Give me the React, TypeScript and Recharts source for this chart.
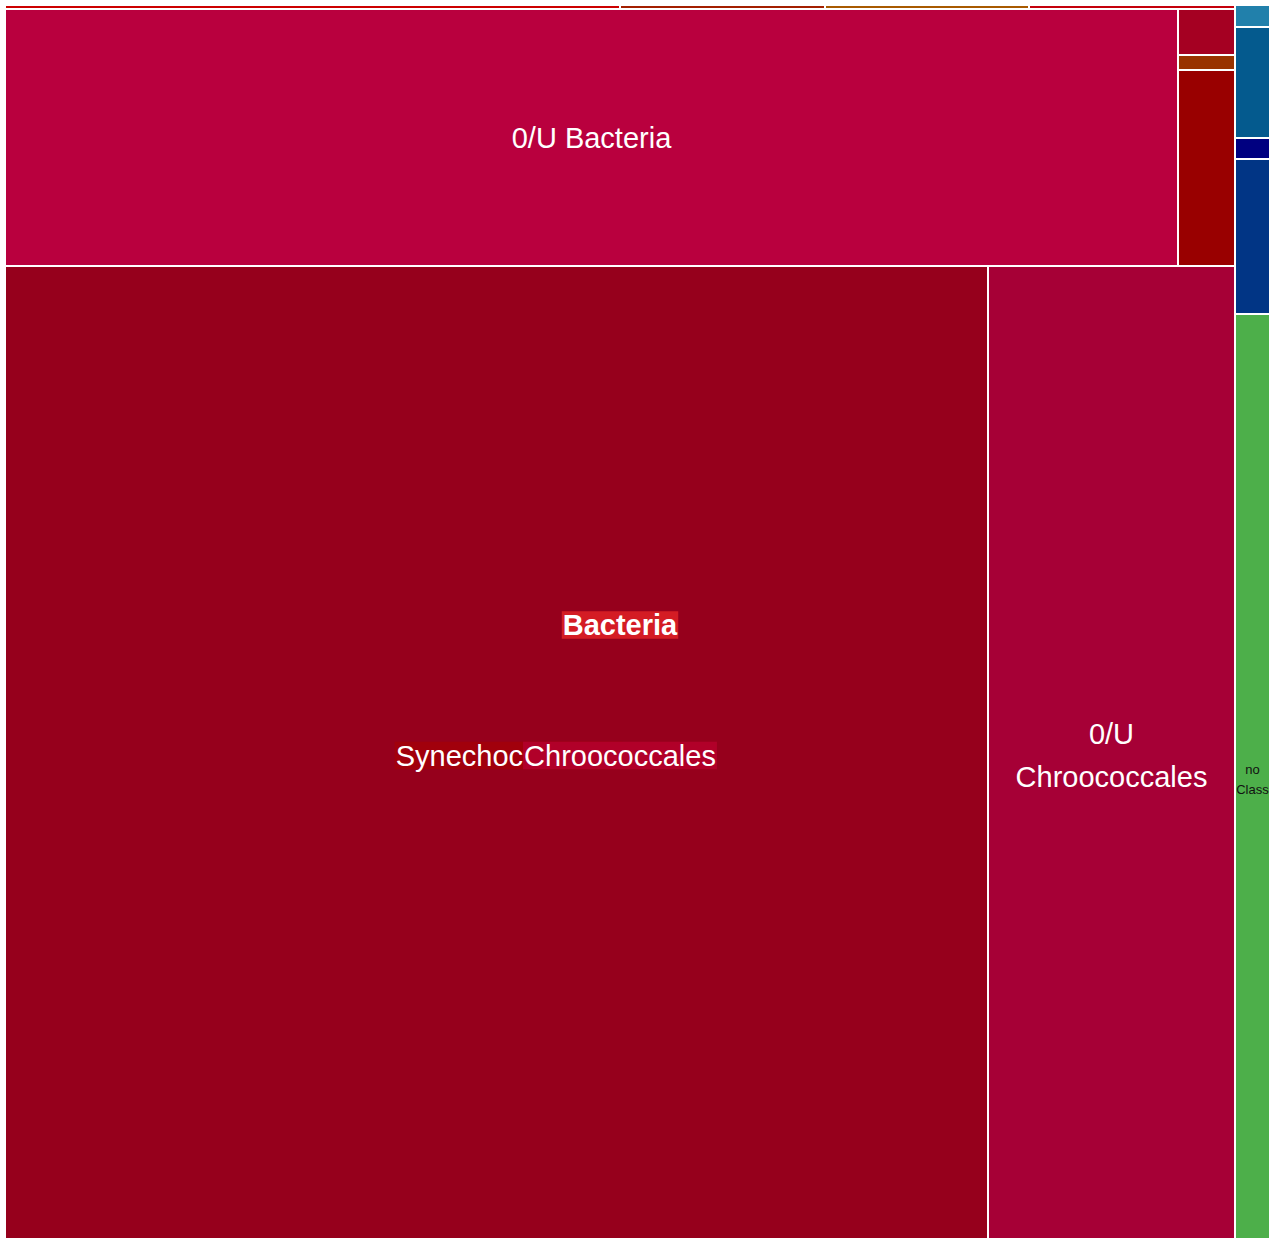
import { Treemap } from "recharts";

const FONT = '"Liberation Sans", Arial, Helvetica, sans-serif';
const WIDTH = 1265;
const HEIGHT = 1240;

// Bacteria: thin row of small orders along the top
const topOrders = ["order A", "order B", "order C", "order D"];
const topOrderCounts = [492, 164, 163, 164];

// second band of Bacteria: unassigned reads plus three small orders
const unassignedBacteria = 60292;
const sideOrders = ["order E", "order F", "order G"];
const sideOrderCounts = [524, 171, 2234];

// Chroococcales
const chroococcalesNames = ["Synechococcales", "0/U Chroococcales"];
const chroococcalesCounts = [192471, 48363];

// everything outside Bacteria (right hand column)
const otherGroups = ["group 1", "group 2", "group 3", "group 4", "no Class"];
const otherGroupCounts = [154, 777, 147, 1085, 6517];

const leaf = (name: string, value: number) => ({ name, value });

const data = [
  {
    name: "Bacteria",
    children: [
      ...topOrders.map((n, i) => leaf(n, topOrderCounts[i])),
      {
        name: "other Bacteria",
        children: [
          leaf("0/U Bacteria", unassignedBacteria),
          ...sideOrders.map((n, i) => leaf(n, sideOrderCounts[i])),
        ],
      },
      {
        name: "Chroococcales",
        children: chroococcalesNames.map((n, i) => leaf(n, chroococcalesCounts[i])),
      },
    ],
  },
  ...otherGroups.map((n, i) => leaf(n, otherGroupCounts[i])),
];

const fills: Record<string, string> = {
  "order A": "#cc0000",
  "order B": "#a31f00",
  "order C": "#a85a00",
  "order D": "#c4000c",
  "0/U Bacteria": "#b9003e",
  "order E": "#a50022",
  "order F": "#993300",
  "order G": "#990000",
  Synechococcales: "#96001c",
  "0/U Chroococcales": "#a60036",
  "group 1": "#2180ab",
  "group 2": "#045a8e",
  "group 3": "#000080",
  "group 4": "#013585",
  "no Class": "#4daf4a",
};

type LabelStyle = { size: number; color: string; weight?: number; bg?: string; dx?: number };

const leafLabels: Record<string, LabelStyle> = {
  "0/U Bacteria": { size: 29, color: "#fff" },
  Synechococcales: { size: 29, color: "#fff", bg: "#a1000c", dx: 12 },
  "0/U Chroococcales": { size: 29, color: "#fff" },
  "no Class": { size: 13, color: "#111" },
};

const headerLabels: Record<string, LabelStyle> = {
  Bacteria: { size: 29, color: "#fff", weight: 700, bg: "#d41c24" },
  Chroococcales: { size: 29, color: "#fff", bg: "#b10029" },
};

const ctx = document.createElement("canvas").getContext("2d")!;
const measure = (text: string, size: number, weight = 400) => {
  ctx.font = `${weight} ${size}px ${FONT}`;
  return ctx.measureText(text).width;
};

function wrap(text: string, style: LabelStyle, maxWidth: number) {
  const words = text.split(" ");
  const lines: string[] = [];
  let line = "";
  for (const w of words) {
    const next = line ? line + " " + w : w;
    if (line && measure(next, style.size, style.weight) > maxWidth) {
      lines.push(line);
      line = w;
    } else {
      line = next;
    }
  }
  if (line) lines.push(line);
  return lines;
}

function drawLabel(name: string, x: number, cy: number, width: number, style: LabelStyle) {
  const cx = x + (style.dx ?? 0);
  const lines = wrap(name, style, width - 4);
  const lh = style.size * 1.48;
  const top = cy - ((lines.length - 1) * lh) / 2;
  return (
    <g>
      {lines.map((t, i) => {
        const w = measure(t, style.size, style.weight);
        const ly = top + i * lh;
        return (
          <g key={i}>
            {style.bg && (
              <rect
                x={cx - w / 2 - 1}
                y={ly - style.size * 0.475}
                width={w + 2}
                height={style.size * 0.95}
                fill={style.bg}
              />
            )}
            <text
              x={cx}
              y={ly}
              textAnchor="middle"
              dominantBaseline="central"
              fill={style.color}
              fontSize={style.size}
              fontWeight={style.weight ?? 400}
              fontFamily={FONT}
            >
              {t}
            </text>
          </g>
        );
      })}
    </g>
  );
}

function renderTile(props: any) {
  const { x, y, width, height, depth, name, children } = props;
  if (!depth || (children && children.length)) return <g />;
  const style = leafLabels[name];
  return (
    <g>
      <rect x={x} y={y} width={width} height={height} fill={fills[name] ?? "#999"} stroke="#fff" strokeWidth={2} />
      {style && drawLabel(name, x + width / 2, y + height / 2, width, style)}
    </g>
  );
}

function renderHeader(props: any) {
  const { x, y, width, height, depth, name, children } = props;
  const style = headerLabels[name];
  if (!depth || !children || !children.length || !style) return <g />;
  return drawLabel(name, x + width / 2, y + height / 2, width, style);
}

export default function App() {
  return (
    <div style={{ position: "absolute", left: 5, top: 5, width: WIDTH, height: 1233, overflow: "hidden" }}>
      <div style={{ position: "absolute", left: 0, top: 0 }}>
        <Treemap
          width={WIDTH}
          height={HEIGHT}
          data={data}
          dataKey="value"
          nameKey="name"
          aspectRatio={0.5}
          isAnimationActive={false}
          content={renderTile as any}
        />
      </div>
      <div style={{ position: "absolute", left: 0, top: 0, pointerEvents: "none" }}>
        <Treemap
          width={WIDTH}
          height={HEIGHT}
          data={data}
          dataKey="value"
          nameKey="name"
          aspectRatio={0.5}
          isAnimationActive={false}
          content={renderHeader as any}
        />
      </div>
    </div>
  );
}
